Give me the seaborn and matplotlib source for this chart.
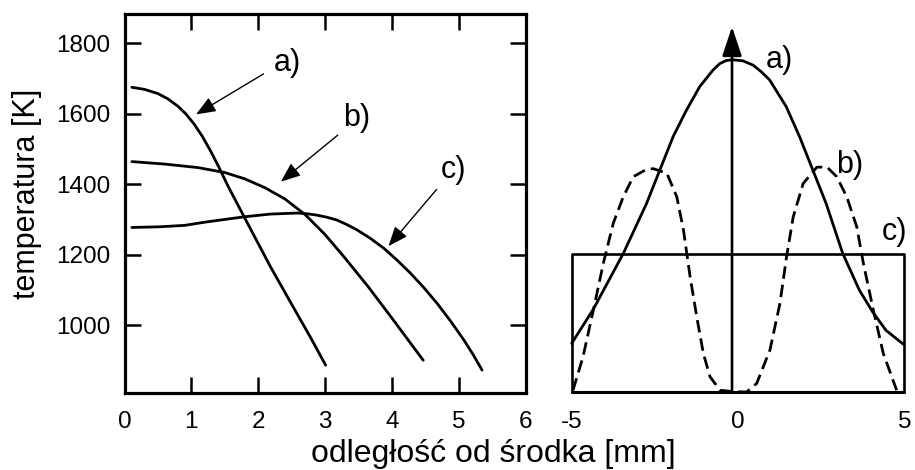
import matplotlib
matplotlib.use("Agg")
import matplotlib.pyplot as plt
import seaborn as sns
import pandas as pd

# --- temperature profiles vs. distance from the centre (left panel) ---
a_x = [0.11, 0.30, 0.50, 0.65, 0.80, 0.92, 1.04, 1.16, 1.28, 1.40, 1.55, 1.81, 2.18, 2.48, 2.78, 3.01]
a_y = [1675, 1669, 1657, 1642, 1621, 1599, 1571, 1537, 1497, 1453, 1394, 1300, 1167, 1066, 966, 886]

b_x = [0.11, 0.60, 1.10, 1.50, 1.80, 2.10, 2.40, 2.70, 3.00, 3.30, 3.65, 4.00, 4.47]
b_y = [1464, 1457, 1447, 1433, 1415, 1390, 1358, 1314, 1257, 1190, 1108, 1020, 900]

c_x = [0.11, 0.53, 0.90, 1.20, 1.43, 1.78, 2.18, 2.58, 2.73, 2.88, 3.03, 3.18, 3.33, 3.48,
       3.68, 3.88, 4.08, 4.28, 4.48, 4.68, 4.88, 5.08, 5.22, 5.35]
c_y = [1277, 1279, 1283, 1292, 1298, 1307, 1315, 1318, 1316, 1312, 1306, 1298, 1285, 1270,
       1246, 1218, 1184, 1147, 1106, 1061, 1011, 957, 915, 872]

x_ticks_left = [0, 1, 2, 3, 4, 5, 6]
y_ticks_left = [1000, 1200, 1400, 1600, 1800]
y_range = (808, 1883)

# label positions and arrow (tail -> head) for each profile
left_labels = ["a)", "b)", "c)"]
left_label_xy = [(2.43, 1743), (3.48, 1587), (4.92, 1440)]
left_arrow_tail = [(2.08, 1713), (3.19, 1539), (4.67, 1385)]
left_arrow_head = [(1.07, 1598), (2.34, 1407), (3.95, 1224)]

# --- heat-source distributions across the weld (right panel) ---
ra_x = [-5.0, -4.35, -3.45, -2.75, -2.35, -1.95, -1.55, -1.15, -0.75, -0.55, -0.35, -0.15,
        0.15, 0.45, 0.70, 0.95, 1.45, 1.85, 2.25, 2.65, 3.15, 3.65, 4.05, 4.45, 4.98]
ra_y = [948, 1045, 1203, 1345, 1440, 1535, 1610, 1677, 1724, 1742, 1751, 1753,
        1750, 1738, 1719, 1696, 1620, 1535, 1440, 1345, 1203, 1099, 1037, 985, 945]

rb_x = [-4.96, -4.66, -4.35, -4.05, -3.75, -3.45, -3.15, -2.75, -2.55, -2.14, -1.84, -1.64,
        -1.44, -1.24, -1.04, -0.84, -0.54, -0.15, 0.26, 0.56, 0.96, 1.26, 1.46, 1.66, 1.96,
        2.37, 2.67, 2.97, 3.27, 3.57, 3.77, 4.07, 4.37, 4.77]
rb_y = [815, 910, 1042, 1175, 1289, 1364, 1421, 1442, 1444, 1431, 1364, 1270,
        1137, 1023, 919, 853, 815, 811, 810, 834, 929, 1061, 1194, 1307, 1402,
        1448, 1449, 1421, 1364, 1279, 1175, 1042, 919, 815]

rc_level = 1203
r_base = 811
r_edges = [-5, 5]
r_axis_x = -0.18
r_axis_top = 1847
x_ticks_right = [-5, 0, 5]
x_ticklabels_right = ["-5", "0", "5"]

right_labels = ["a)", "b)", "c)"]
right_label_xy = [(1.23, 1753), (3.35, 1454), (4.70, 1265)]

sns.set_theme(style="ticks")
plt.rcParams["font.family"] = ["Liberation Sans", "DejaVu Sans"]

fig = plt.figure(figsize=(9.15, 4.70), dpi=100)
W, H = 915, 470
ax = fig.add_axes([124.5 / W, 1 - 392.7 / H, 401 / W, 378.7 / H])
ax2 = fig.add_axes([571.7 / W, 1 - 392.7 / H, 332.6 / W, 378.7 / H])

ink = "black"
curve_lw = 2.0
tick_fs = 17.5

# left panel curves
left_df = pd.concat([
    pd.DataFrame({"odl": a_x, "temp": a_y, "profil": "a"}),
    pd.DataFrame({"odl": b_x, "temp": b_y, "profil": "b"}),
    pd.DataFrame({"odl": c_x, "temp": c_y, "profil": "c"}),
])
sns.lineplot(data=left_df, x="odl", y="temp", units="profil", estimator=None,
             sort=False, color=ink, lw=curve_lw, ax=ax)

ax.set_xlim(0, 6)
ax.set_ylim(*y_range)
ax.set_xticks(x_ticks_left)
ax.set_yticks(y_ticks_left)
ax.set_xlabel("")
ax.set_ylabel("")
for s in ax.spines.values():
    s.set_visible(True)
    s.set_linewidth(2.3)
    s.set_color(ink)
ax.tick_params(direction="in", length=11.5, width=1.8, top=True, right=True,
               labelsize=tick_fs, colors=ink)
ax.tick_params(axis="x", pad=13.5)
ax.tick_params(axis="y", pad=10.0)

for lab, (tx, ty), tail, head in zip(left_labels, left_label_xy, left_arrow_tail, left_arrow_head):
    ax.text(tx, ty, lab, fontsize=22, ha="center", va="center", color=ink)
    ax.annotate("", xy=head, xytext=tail,
                arrowprops=dict(arrowstyle="-|>,head_length=0.6,head_width=0.24",
                                lw=1.0, color=ink, shrinkA=0, shrinkB=0,
                                mutation_scale=20))

# right panel
sns.lineplot(x=ra_x, y=ra_y, sort=False, color=ink, lw=curve_lw, ax=ax2, clip_on=False)
sns.lineplot(x=rb_x, y=rb_y, sort=False, color=ink, lw=curve_lw, ax=ax2,
             linestyle=(0, (4.5, 2.2)), clip_on=False)
# flat distribution drawn as a box standing on the base line
ax2.plot([r_edges[0], r_edges[0], r_edges[1], r_edges[1]],
         [r_base, rc_level, rc_level, r_base], color=ink, lw=1.9, clip_on=False)
ax2.plot(r_edges, [r_base, r_base], color=ink, lw=2.2, clip_on=False)
ax2.annotate("", xy=(r_axis_x, r_axis_top), xytext=(r_axis_x, r_base),
             arrowprops=dict(arrowstyle="-|>,head_length=0.9,head_width=0.3",
                             lw=1.9, color=ink, shrinkA=0, shrinkB=0,
                             mutation_scale=20))
for lab, (tx, ty) in zip(right_labels, right_label_xy):
    ax2.text(tx, ty, lab, fontsize=22, ha="center", va="center", color=ink)

ax2.set_xlim(-5, 5)
ax2.set_ylim(*y_range)
ax2.set_xticks(x_ticks_right)
ax2.set_xticklabels(x_ticklabels_right)
ax2.set_yticks([])
ax2.set_xlabel("")
ax2.set_ylabel("")
for s in ax2.spines.values():
    s.set_visible(False)
ax2.tick_params(axis="x", length=0, labelsize=tick_fs, pad=13.5, colors=ink)
ax2.patch.set_alpha(0)

fig.text(27.5 / W, 1 - 194 / H, "temperatura [K]", rotation=90, fontsize=22,
         ha="center", va="center", color=ink)
fig.text(493.8 / W, 1 - 462 / H, "odległość od środka [mm]", fontsize=23,
         ha="center", va="baseline", color=ink)

fig.savefig("out.png", dpi=100, facecolor="white")
